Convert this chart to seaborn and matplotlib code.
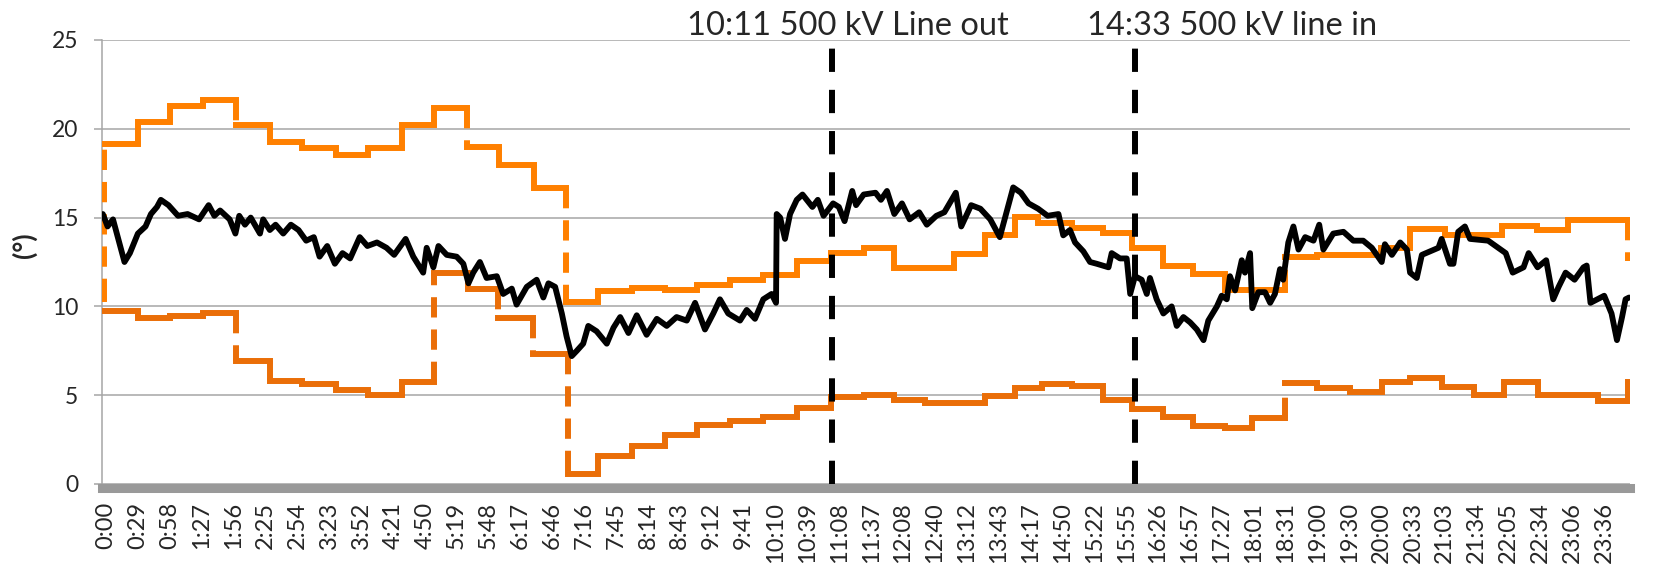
import matplotlib
matplotlib.use("Agg")
import matplotlib.pyplot as plt
import seaborn as sns

# x positions are in "label slots" (one slot per printed time label)
tick_labels = [
    "0:00", "0:29", "0:58", "1:27", "1:56", "2:25", "2:54", "3:23", "3:52", "4:21",
    "4:50", "5:19", "5:48", "6:17", "6:46", "7:16", "7:45", "8:14", "8:43", "9:12",
    "9:41", "10:10", "10:39", "11:08", "11:37", "12:08", "12:40", "13:12", "13:43", "14:17",
    "14:50", "15:22", "15:55", "16:26", "16:57", "17:27", "18:01", "18:31", "19:00", "19:30",
    "20:00", "20:33", "21:03", "21:34", "22:05", "22:34", "23:06", "23:36",
]

# measured angle (black)
black_pos = [
    -0.1, 0.05, 0.22, 0.4, 0.58, 0.75, 1.0, 1.24, 1.41, 1.6, 1.72, 1.96, 2.26, 2.56, 2.92,
    3.22, 3.4, 3.58, 3.88, 4.06, 4.18, 4.36, 4.54, 4.83, 4.93, 5.14, 5.32, 5.56, 5.8, 6.04,
    6.28, 6.52, 6.7, 6.94, 7.18, 7.42, 7.66, 7.96, 8.2, 8.5, 8.8, 9.04, 9.4, 9.64, 9.95,
    10.06, 10.27, 10.43, 10.69, 11.0, 11.21, 11.37, 11.52, 11.73, 11.94, 12.26, 12.46, 12.73, 12.88, 13.2,
    13.51, 13.72, 13.88, 14.09, 14.3, 14.45, 14.61, 14.77, 14.97, 15.13, 15.39, 15.71, 15.92, 16.13, 16.39,
    16.65, 16.96, 17.28, 17.59, 17.9, 18.22, 18.48, 18.79, 19.05, 19.26, 19.52, 19.89, 20.1, 20.36, 20.62,
    20.88, 21.02, 21.04, 21.15, 21.3, 21.46, 21.67, 21.85, 22.16, 22.33, 22.51, 22.81, 22.99, 23.17, 23.41,
    23.53, 23.77, 24.14, 24.31, 24.5, 24.73, 24.97, 25.21, 25.51, 25.75, 26.05, 26.3, 26.66, 26.83, 27.14,
    27.43, 27.74, 28.04, 28.22, 28.46, 28.7, 28.94, 29.24, 29.54, 29.88, 30.03, 30.24, 30.4, 30.66, 30.87,
    31.08, 31.45, 31.55, 31.81, 32.02, 32.13, 32.28, 32.49, 32.65, 32.75, 32.96, 33.17, 33.43, 33.59, 33.8,
    34.01, 34.22, 34.43, 34.58, 34.85, 35.0, 35.16, 35.26, 35.42, 35.63, 35.73, 35.89, 35.96, 36.15, 36.36,
    36.52, 36.67, 36.83, 36.93, 37.09, 37.25, 37.41, 37.62, 37.88, 38.06, 38.19, 38.5, 38.82, 39.13, 39.44,
    39.71, 40.02, 40.12, 40.34, 40.6, 40.81, 40.91, 41.12, 41.28, 41.54, 41.8, 41.9, 42.16, 42.27, 42.42,
    42.63, 42.79, 43.36, 43.91, 44.13, 44.47, 44.63, 44.91, 45.18, 45.4, 45.57, 45.79, 46.07, 46.35, 46.45,
    46.57, 47.0, 47.23, 47.4, 47.56, 47.67, 47.78,
]
black_val = [
    15.2, 14.5, 14.9, 13.7, 12.5, 13.0, 14.1, 14.5, 15.2, 15.6, 16.0, 15.7, 15.1, 15.2, 14.9,
    15.7, 15.1, 15.4, 14.9, 14.1, 15.1, 14.6, 15.0, 14.1, 14.9, 14.3, 14.6, 14.1, 14.6, 14.3,
    13.7, 13.9, 12.8, 13.4, 12.4, 13.0, 12.7, 13.9, 13.4, 13.6, 13.3, 12.9, 13.8, 12.8, 11.9,
    13.3, 12.2, 13.4, 12.9, 12.8, 12.4, 11.3, 11.9, 12.5, 11.6, 11.7, 10.7, 11.0, 10.1, 11.1,
    11.5, 10.5, 11.3, 11.1, 9.6, 8.3, 7.2, 7.5, 7.9, 8.9, 8.6, 7.9, 8.8, 9.4, 8.5,
    9.5, 8.4, 9.3, 8.9, 9.4, 9.2, 10.2, 8.7, 9.6, 10.4, 9.6, 9.2, 9.8, 9.3, 10.4,
    10.7, 10.2, 15.2, 15.0, 13.8, 15.2, 16.0, 16.3, 15.6, 16.0, 15.1, 15.8, 15.6, 14.8, 16.5,
    15.7, 16.3, 16.4, 16.0, 16.5, 15.2, 15.8, 14.9, 15.3, 14.6, 15.1, 15.3, 16.4, 14.5, 15.7,
    15.5, 14.9, 13.9, 15.1, 16.7, 16.4, 15.8, 15.5, 15.1, 15.2, 14.0, 14.3, 13.6, 13.1, 12.5,
    12.4, 12.2, 13.0, 12.7, 12.7, 10.7, 11.7, 11.5, 10.7, 11.6, 10.4, 9.6, 10.0, 8.9, 9.4,
    9.1, 8.7, 8.1, 9.2, 10.0, 10.6, 10.4, 11.7, 10.9, 12.6, 11.9, 13.0, 9.9, 10.8, 10.8,
    10.2, 10.7, 12.1, 11.5, 13.6, 14.5, 13.2, 13.9, 13.7, 14.6, 13.2, 14.1, 14.2, 13.7, 13.7,
    13.3, 12.5, 13.5, 12.9, 13.6, 13.2, 11.9, 11.6, 12.9, 13.1, 13.3, 13.8, 12.4, 12.4, 14.2,
    14.5, 13.8, 13.7, 13.0, 11.9, 12.2, 13.0, 12.2, 12.6, 10.4, 11.1, 11.9, 11.5, 12.2, 12.3,
    10.2, 10.6, 9.6, 8.1, 9.4, 10.4, 10.5,
]

# upper limit (step edges and levels)
upper_edges = [
    -0.1, -0.07, 1.0, 2.02, 3.04, 4.09, 5.14, 6.16, 7.22, 8.22, 9.28, 10.3, 11.32, 12.34, 13.42,
    14.44, 15.45, 16.49, 17.54, 18.53, 19.58, 20.62, 21.67, 22.75, 23.78, 24.73, 26.59, 27.56, 28.52,
    29.24, 30.3, 31.28, 32.18, 33.17, 34.11, 35.1, 36.99, 37.98, 40.0, 40.9, 42.0, 43.8, 44.9, 45.85,
    47.76, 47.78,
]
upper_vals = [
    10.4, 19.14, 20.4, 21.28, 21.62, 20.2, 19.27, 18.94, 18.52, 18.9, 20.2, 21.15, 18.99, 17.96,
    16.65, 10.27, 10.89, 11.02, 10.92, 11.2, 11.49, 11.77, 12.56, 12.99, 13.27, 12.18, 12.93, 14.02,
    15.05, 14.7, 14.4, 14.16, 13.27, 12.28, 11.8, 10.94, 12.78, 12.92, 13.3, 14.34, 14.02, 14.5,
    14.3, 14.86, 12.7,
]

# lower limit
lower_edges = [
    -0.1, 1.0, 2.02, 3.04, 4.09, 5.14, 6.16, 7.22, 8.22, 9.28, 10.3, 11.37, 12.31, 13.41, 14.5,
    15.45, 16.49, 17.54, 18.53, 19.58, 20.62, 21.67, 22.75, 23.78, 24.73, 25.69, 27.56, 28.52, 29.36,
    30.32, 31.28, 32.18, 33.17, 34.11, 35.1, 35.94, 36.99, 37.98, 39.03, 40.03, 40.91, 41.91, 42.92,
    43.86, 44.91, 46.79, 47.76, 47.78,
]
lower_vals = [
    9.76, 9.33, 9.46, 9.65, 6.94, 5.82, 5.63, 5.29, 5.01, 5.76, 11.86, 10.96, 9.36, 7.32, 0.55,
    1.58, 2.14, 2.76, 3.32, 3.56, 3.75, 4.26, 4.92, 5.01, 4.73, 4.58, 4.95, 5.39, 5.63, 5.52,
    4.73, 4.2, 3.75, 3.27, 3.13, 3.7, 5.7, 5.39, 5.2, 5.76, 5.95, 5.45, 5.01, 5.76, 5.01,
    4.69, 5.76,
]

event_pos = [22.77, 32.28]
event_text = ["10:11 500 kV Line out", "14:33 500 kV line in"]
event_text_pos = [18.23, 30.78]

sns.set_style("white")
plt.rcParams["font.family"] = ["Lato", "DejaVu Sans"]

GRID = "#A6A6A6"
UPPER_C = "#FF8000"
LOWER_C = "#EA6E08"


def draw_steps(ax, edges, vals, color):
    # flat parts solid, jumps dashed (like the original chart)
    h = ax.hlines(vals, edges[:-1], edges[1:], colors=color, linewidth=4.3, zorder=3)
    h.set_capstyle("projecting")
    ax.vlines(edges[1:-1], vals[:-1], vals[1:], colors=color, linewidth=4.3,
              linestyles=(0, (3.4, 2.0)), zorder=3)


fig = plt.figure(figsize=(16.53, 5.68), dpi=100)
ax = fig.add_axes([0.062, 0.1479, 0.9241, 0.7817])

# spines first: moving a spine resets the ticks
for s in ["top", "right"]:
    ax.spines[s].set_visible(False)
ax.spines["left"].set_color(GRID)
ax.spines["left"].set_linewidth(1.1)
ax.spines["bottom"].set_position(("outward", 3.24))
ax.spines["bottom"].set_color("#999999")
ax.spines["bottom"].set_linewidth(6.5)
ax.spines["bottom"].set_zorder(6)

draw_steps(ax, upper_edges, upper_vals, UPPER_C)
draw_steps(ax, lower_edges, lower_vals, LOWER_C)

sns.lineplot(x=black_pos, y=black_val, color="black", linewidth=4.2, ax=ax,
             estimator=None, sort=False, zorder=4, solid_joinstyle="round")

for p in event_pos:
    ax.axvline(p, color="black", linewidth=4.3, linestyle=(0, (3.9, 3.0)), zorder=5)
for p, t in zip(event_text_pos, event_text):
    ax.text(p, 25.28, t, fontsize=23.5, ha="left", va="baseline", clip_on=False)

ax.set_xlim(-0.11, 47.81)
ax.set_ylim(0, 25)
ax.set_yticks([0, 5, 10, 15, 20, 25])
ax.set_xticks(range(len(tick_labels)))
ax.set_xticklabels(tick_labels, rotation=90, fontsize=17)
ax.tick_params(axis="y", labelsize=16.5, length=5.5, width=1.1, color=GRID, pad=12, left=True)
ax.tick_params(axis="x", length=0, pad=9.7)

ax.yaxis.grid(True, color=GRID, linewidth=1.1)
ax.set_axisbelow(True)

ax.set_ylabel("")
ax.text(-0.0514, 0.538, "(°)", transform=ax.transAxes, rotation=90, fontsize=19,
        fontweight="bold", ha="center", va="center")

fig.savefig("out.png", dpi=100)
